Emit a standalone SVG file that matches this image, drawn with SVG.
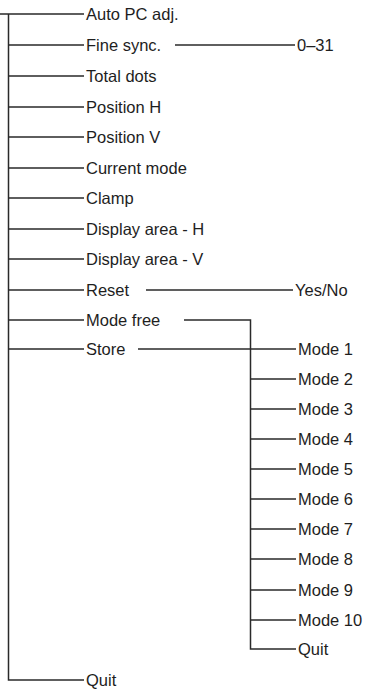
<svg xmlns="http://www.w3.org/2000/svg" width="371" height="689" viewBox="0 0 371 689">
<style>
.c{stroke:#2a2a2a;stroke-width:1.5;fill:none}
text{font-family:"Liberation Sans",Arial,sans-serif;font-size:16.5px;fill:#1e1e1e}
</style>
<rect width="371" height="689" fill="#fff"/>
<g id="connectors" class="c">
<path d="M0 14H84M8.5 14V680H84"/>
<path d="M8.5 45H84M8.5 76H84M8.5 107H84M8.5 137H84M8.5 168H84M8.5 198H84M8.5 229H84M8.5 259H84M8.5 290H84M8.5 320H84M8.5 349H84"/>
<path d="M175 45H295"/>
<path d="M146 290H293"/>
<path d="M184 320H250.5V649H296"/>
<path d="M138 349H296"/>
<path d="M250.5 379H296M250.5 409H296M250.5 439H296M250.5 469H296M250.5 499H296M250.5 529H296M250.5 559H296M250.5 590H296M250.5 620H296"/>
</g>
<g id="n-auto"><text x="86" y="20">Auto PC adj.</text></g>
<g id="n-fine"><text x="86" y="51">Fine sync.</text></g>
<g id="n-fine-val"><text x="297" y="51">0–31</text></g>
<g id="n-total"><text x="86" y="82">Total dots</text></g>
<g id="n-posh"><text x="86" y="113">Position H</text></g>
<g id="n-posv"><text x="86" y="143">Position V</text></g>
<g id="n-cur"><text x="86" y="174">Current mode</text></g>
<g id="n-clamp"><text x="86" y="204">Clamp</text></g>
<g id="n-dah"><text x="86" y="235">Display area - H</text></g>
<g id="n-dav"><text x="86" y="265">Display area - V</text></g>
<g id="n-reset"><text x="86" y="296">Reset</text></g>
<g id="n-yesno"><text x="295" y="296">Yes/No</text></g>
<g id="n-modefree"><text x="86" y="326">Mode free</text></g>
<g id="n-store"><text x="86" y="355">Store</text></g>
<g id="n-m1"><text x="298" y="355">Mode 1</text></g>
<g id="n-m2"><text x="298" y="385">Mode 2</text></g>
<g id="n-m3"><text x="298" y="415">Mode 3</text></g>
<g id="n-m4"><text x="298" y="445">Mode 4</text></g>
<g id="n-m5"><text x="298" y="475">Mode 5</text></g>
<g id="n-m6"><text x="298" y="505">Mode 6</text></g>
<g id="n-m7"><text x="298" y="535">Mode 7</text></g>
<g id="n-m8"><text x="298" y="565">Mode 8</text></g>
<g id="n-m9"><text x="298" y="596">Mode 9</text></g>
<g id="n-m10"><text x="298" y="626">Mode 10</text></g>
<g id="n-subquit"><text x="298" y="655">Quit</text></g>
<g id="n-quit"><text x="86" y="686">Quit</text></g>
</svg>
